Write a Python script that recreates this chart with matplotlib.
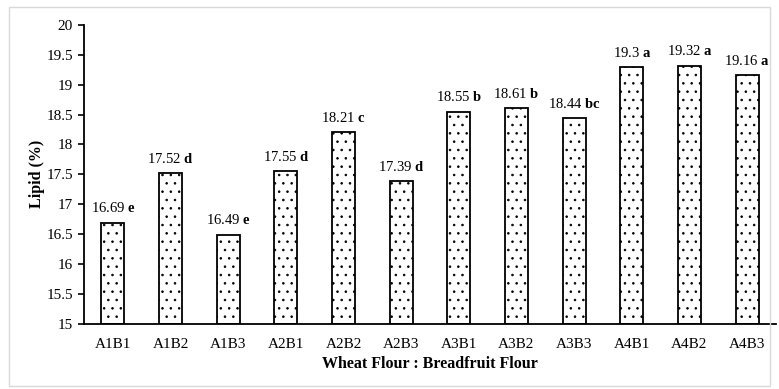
import matplotlib
matplotlib.use("Agg")
import matplotlib.pyplot as plt
from matplotlib.patches import Rectangle

plt.rcParams.update({
    "font.family": "Liberation Serif",
    "mathtext.fontset": "custom",
    "mathtext.rm": "Liberation Serif",
    "mathtext.bf": "Liberation Serif:bold",
    "font.size": 10,
    "hatch.linewidth": 0.6,
})

treatments = ["A1B1", "A1B2", "A1B3", "A2B1", "A2B2", "A2B3",
              "A3B1", "A3B2", "A3B3", "A4B1", "A4B2", "A4B3"]
lipid = [16.69, 17.52, 16.49, 17.55, 18.21, 17.39,
         18.55, 18.61, 18.44, 19.3, 19.32, 19.16]
letters = ["e", "d", "e", "d", "c", "d", "b", "b", "bc", "a", "a", "a"]
y_ticks = [15, 15.5, 16, 16.5, 17, 17.5, 18, 18.5, 19, 19.5, 20]

fig = plt.figure(figsize=(7.79, 3.89), dpi=100)
ax = fig.add_axes([0.108, 0.168, 0.888, 0.768])

# light gray frame around the whole chart
fig.patches.append(Rectangle((0.011, 0.008), 0.978, 0.975, transform=fig.transFigure,
                             fill=False, edgecolor="#d9d9d9", lw=1.0))

x = range(len(treatments))
ax.bar(x, [v - 15 for v in lipid], bottom=15, width=0.4, color="white",
       edgecolor="black", linewidth=1.3, hatch="..")

for i, (v, lt) in enumerate(zip(lipid, letters)):
    ax.text(i, v + 0.12, f"{v:g} $\\mathbf{{{lt}}}$", ha="center", va="bottom", fontsize=10.5)

ax.set_xlim(-0.5, 11.5)
ax.set_ylim(15, 20)
ax.set_yticks(y_ticks)
ax.set_yticklabels([f"{t:g}" for t in y_ticks], fontsize=11)
ax.set_xticks(list(x))
ax.set_xticklabels(treatments, fontsize=11)
ax.tick_params(axis="x", length=0, pad=10)
ax.tick_params(axis="y", length=4, width=1.2, pad=4)
for s in ["top", "right"]:
    ax.spines[s].set_visible(False)
for s in ["left", "bottom"]:
    ax.spines[s].set_linewidth(1.3)

ax.set_ylabel("Lipid (%)", fontweight="bold", fontsize=11.5, labelpad=1)
ax.set_xlabel("Wheat Flour : Breadfruit Flour", fontweight="bold", fontsize=11.5, labelpad=4)

fig.savefig("out.png", dpi=100)
